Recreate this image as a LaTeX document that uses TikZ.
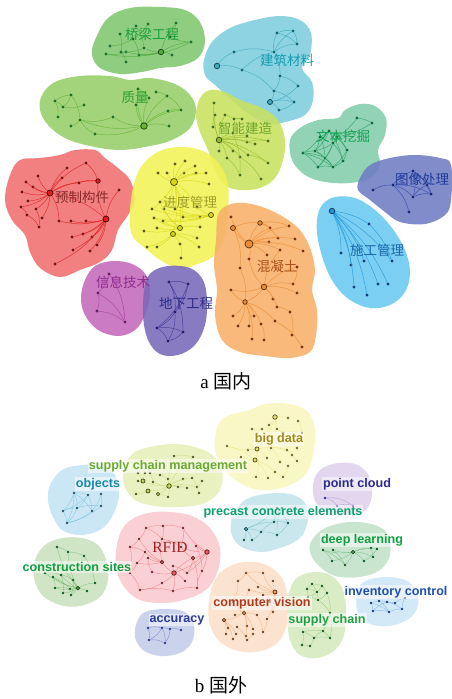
\documentclass[tikz,border=0pt]{standalone}
\usepackage{fontspec}
\setmainfont{Liberation Serif}
\newfontfamily\cjk{Noto Sans CJK SC}
\newfontfamily\lsans{Liberation Sans}
\definecolor{cQL}{RGB}{128,198,112}\definecolor{eQL}{RGB}{80,170,60}\definecolor{dQL}{RGB}{30,110,50}\definecolor{tQL}{RGB}{25,160,60}
\definecolor{cJZ}{RGB}{125,205,222}\definecolor{eJZ}{RGB}{60,170,190}\definecolor{dJZ}{RGB}{20,100,110}\definecolor{tJZ}{RGB}{20,155,175}
\definecolor{cZL}{RGB}{150,205,105}\definecolor{eZL}{RGB}{100,180,50}\definecolor{dZL}{RGB}{30,110,40}\definecolor{tZL}{RGB}{45,160,50}
\definecolor{cZN}{RGB}{200,225,95}\definecolor{eZN}{RGB}{150,190,40}\definecolor{dZN}{RGB}{70,110,30}\definecolor{tZN}{RGB}{110,168,40}
\definecolor{cWB}{RGB}{130,205,170}\definecolor{eWB}{RGB}{40,160,100}\definecolor{dWB}{RGB}{20,110,60}\definecolor{tWB}{RGB}{16,160,80}
\definecolor{cTX}{RGB}{110,125,195}\definecolor{eTX}{RGB}{50,70,170}\definecolor{dTX}{RGB}{30,40,120}\definecolor{tTX}{RGB}{32,58,154}
\definecolor{cSG}{RGB}{105,200,240}\definecolor{eSG}{RGB}{30,150,220}\definecolor{dSG}{RGB}{20,60,120}\definecolor{tSG}{RGB}{26,106,170}
\definecolor{cYZ}{RGB}{240,110,110}\definecolor{eYZ}{RGB}{220,30,30}\definecolor{dYZ}{RGB}{110,20,20}\definecolor{tYZ}{RGB}{138,42,42}
\definecolor{cJD}{RGB}{242,242,85}\definecolor{eJD}{RGB}{215,215,20}\definecolor{dJD}{RGB}{90,90,30}\definecolor{tJD}{RGB}{160,160,40}
\definecolor{cHN}{RGB}{248,175,105}\definecolor{eHN}{RGB}{235,140,50}\definecolor{dHN}{RGB}{120,50,20}\definecolor{tHN}{RGB}{168,80,26}
\definecolor{cXX}{RGB}{195,105,185}\definecolor{eXX}{RGB}{170,60,160}\definecolor{dXX}{RGB}{100,30,100}\definecolor{tXX}{RGB}{144,42,144}
\definecolor{cDX}{RGB}{120,105,185}\definecolor{eDX}{RGB}{60,50,150}\definecolor{dDX}{RGB}{40,30,110}\definecolor{tDX}{RGB}{42,42,138}
% panel b
\definecolor{cBD}{RGB}{250,247,195}\definecolor{eBD}{RGB}{230,220,110}\definecolor{tBD}{RGB}{160,138,32}
\definecolor{cSM}{RGB}{232,240,190}\definecolor{eSM}{RGB}{190,210,90}\definecolor{tSM}{RGB}{106,170,48}
\definecolor{cOB}{RGB}{200,230,245}\definecolor{eOB}{RGB}{90,180,210}\definecolor{tOB}{RGB}{26,138,168}
\definecolor{cPC}{RGB}{225,212,238}\definecolor{ePC}{RGB}{150,120,200}\definecolor{tPC}{RGB}{42,42,144}
\definecolor{cPE}{RGB}{198,230,235}\definecolor{ePE}{RGB}{80,180,190}\definecolor{tPE}{RGB}{16,160,112}
\definecolor{cDL}{RGB}{198,228,205}\definecolor{eDL}{RGB}{80,170,100}\definecolor{tDL}{RGB}{16,160,64}
\definecolor{cRF}{RGB}{250,205,210}\definecolor{eRF}{RGB}{235,90,90}\definecolor{tRF}{RGB}{160,32,32}
\definecolor{cCS}{RGB}{205,228,195}\definecolor{eCS}{RGB}{90,170,80}\definecolor{tCS}{RGB}{16,160,64}
\definecolor{cCV}{RGB}{252,225,205}\definecolor{eCV}{RGB}{240,150,80}\definecolor{tCV}{RGB}{176,58,26}
\definecolor{cSC}{RGB}{215,235,195}\definecolor{eSC}{RGB}{110,190,70}\definecolor{tSC}{RGB}{32,160,64}
\definecolor{cIC}{RGB}{210,232,248}\definecolor{eIC}{RGB}{70,150,220}\definecolor{tIC}{RGB}{32,80,176}
\definecolor{cAC}{RGB}{200,208,235}\definecolor{eAC}{RGB}{80,90,180}\definecolor{tAC}{RGB}{42,58,154}
\tikzset{
  blob/.style={fill=#1, fill opacity=0.88, draw=none},
  pale/.style={fill=#1, fill opacity=0.95, draw=none},
  dot/.style={circle, inner sep=0pt, minimum size=3.2pt, fill=#1},
  sdot/.style={circle, inner sep=0pt, minimum size=2.6pt, fill=#1},
  hub/.style 2 args={circle, inner sep=0pt, minimum size=#1, draw=black!65!#2, fill=#2, line width=0.7pt},
  link/.style={draw=#1, line width=0.5pt, draw opacity=0.8},
  plink/.style={draw=#1, line width=0.35pt, draw opacity=0.6},
  labA/.style={font=\cjk\fontsize{13.5}{14}\selectfont, text=#1, inner sep=0pt},
  labB/.style={font=\lsans\bfseries\fontsize{12.6}{13}\selectfont, text=#1, fill=white, fill opacity=0.5, text opacity=1, inner sep=1pt},
  capt/.style={font=\fontsize{19}{20}\selectfont, inner sep=0pt},
}
\begin{document}
\begin{tikzpicture}[x=1pt,y=-1pt]
\useasboundingbox (0,0) rectangle (451,699);
%================ panel a: blobs
\fill[blob=cQL] plot[smooth cycle, tension=0.6] coordinates {(95,40)(108,18)(130,8)(160,7)(185,10)(200,22)(205,42)(198,58)(180,66)(160,68)(142,72)(120,74)(100,68)(92,55)};
\fill[blob=cJZ] plot[smooth cycle, tension=0.6] coordinates {(204,60)(212,42)(230,28)(255,20)(280,16)(300,20)(311,33)(310,55)(302,68)(312,82)(313,100)(305,115)(285,122)(270,124)(250,115)(232,100)(215,85)(205,75)};
\fill[blob=cZL] plot[smooth cycle, tension=0.6] coordinates {(42,95)(55,82)(80,76)(110,76)(130,80)(150,78)(175,84)(190,95)(196,110)(190,128)(172,140)(150,146)(120,150)(90,146)(65,138)(48,125)(40,110)};
\fill[blob=cWB] plot[smooth cycle, tension=0.6] coordinates {(290,140)(300,128)(318,120)(338,118)(345,110)(360,104)(375,106)(386,118)(385,135)(378,150)(380,165)(370,178)(350,183)(325,182)(305,175)(292,160)};
\fill[blob=cTX] plot[smooth cycle, tension=0.6] coordinates {(360,178)(370,165)(390,158)(415,155)(440,158)(451,165)(451,200)(445,215)(425,224)(400,222)(385,212)(370,200)(358,190)};
\fill[blob=cSG] plot[smooth cycle, tension=0.6] coordinates {(322,205)(335,197)(355,198)(375,210)(392,228)(405,250)(410,272)(405,292)(390,305)(370,308)(350,300)(335,285)(325,265)(318,240)(317,220)};
\fill[blob=cYZ] plot[smooth cycle, tension=0.6] coordinates {(10,175)(20,160)(40,158)(60,155)(75,150)(95,150)(105,158)(118,168)(130,180)(135,200)(128,215)(118,230)(112,250)(100,262)(80,270)(60,277)(40,268)(30,252)(25,235)(12,220)(5,200)};
\fill[blob=cZN] plot[smooth cycle, tension=0.6] coordinates {(196,115)(200,98)(210,90)(225,92)(240,100)(262,108)(278,120)(285,140)(283,160)(275,178)(260,188)(240,190)(225,185)(215,170)(208,150)(200,132)};
\fill[blob=cJD] plot[smooth cycle, tension=0.6] coordinates {(135,180)(145,162)(162,150)(185,147)(205,152)(220,165)(228,185)(228,210)(225,235)(215,255)(195,265)(178,268)(160,260)(145,248)(132,235)(130,210)};
\fill[blob=cHN] plot[smooth cycle, tension=0.6] coordinates {(218,215)(228,205)(245,203)(265,208)(285,218)(300,230)(310,248)(315,270)(312,290)(317,310)(316,335)(310,352)(290,358)(265,356)(240,352)(222,340)(215,315)(217,290)(214,265)(216,240)};
\fill[blob=cXX] plot[smooth cycle, tension=0.6] coordinates {(85,280)(95,266)(113,261)(132,264)(146,275)(150,295)(145,315)(135,330)(118,336)(98,330)(85,315)(81,298)};
\fill[blob=cDX] plot[smooth cycle, tension=0.6] coordinates {(145,285)(152,272)(168,266)(190,268)(203,280)(207,300)(205,325)(195,345)(178,355)(160,354)(148,340)(143,315)};
%================ panel a: dots
\foreach \i/\x/\y in {1/136/26,2/148/24,3/176/23,4/120/34,5/133/39,6/144/48,7/161/52,8/191/42,9/110/46,10/121/52,11/126/52,12/139/55,13/172/55,14/106/54,15/126/62,16/170/37}
  \node[dot=dQL] (ql\i) at (\x,\y) {};
\foreach \i/\x/\y in {1/277/33,2/293/31,3/297/44,4/274/52,5/234/52,6/217/66,7/242/70,8/280/76,9/298/86,10/274/91,11/270/102,12/294/102,13/279/110}
  \node[dot=dJZ] (jz\i) at (\x,\y) {};
\foreach \i/\x/\y in {1/55/101,2/71/95,3/84/105,4/63/107,5/58/117,6/80/120,7/71/126,8/95/134,9/113/117,10/144/126,11/136/105,12/138/89,13/149/98,14/156/92,15/167/96,16/168/111,17/181/110,18/169/126}
  \node[dot=dZL] (zl\i) at (\x,\y) {};
\foreach \i/\x/\y in {1/214/103,2/215/115,3/225/115,4/234/119,5/242/119,6/213/127,7/219/140,8/233/133,9/247/136,10/247/142,11/255/144,12/268/141,13/219/151,14/233/151,15/248/155,16/227/158,17/240/157,18/240/175,19/268/163,20/261/179}
  \node[dot=dZN] (zn\i) at (\x,\y) {};
\foreach \i/\x/\y in {1/357/118,2/372/123,3/329/131,4/320/137,5/337/137,6/333/143,7/347/150,8/303/153,9/315/151,10/325/158,11/343/161,12/318/167,13/333/167}
  \node[dot=dWB] (wb\i) at (\x,\y) {};
\foreach \i/\x/\y in {1/373/190,2/393/185,3/413/171,4/413/197,5/431/194,6/409/212,7/427/185}
  \node[dot=dTX] (tx\i) at (\x,\y) {};
\foreach \i/\x/\y in {1/332/211,2/369/224,3/341/253,4/351/265,5/364/261,6/354/287,7/367/295,8/378/284,9/388/284,10/392/261}
  \node[dot=dSG] (sg\i) at (\x,\y) {};
\foreach \i/\x/\y in {1/86/163,2/67/168,3/38/176,4/62/178,5/79/183,6/98/181,7/26/182,8/33/187,9/50/193,10/22/192,11/119/190,12/28/201,13/21/207,14/36/209,15/27/215,16/42/218,17/59/221,18/71/221,19/86/221,20/106/219,21/39/227,22/72/237,23/83/234,24/92/237,25/97/245,26/73/250,27/90/251,28/55/264}
  \node[dot=dYZ] (yz\i) at (\x,\y) {};
\foreach \i/\x/\y in {1/175/164,2/185/161,3/195/166,4/158/173,5/167/173,6/184/173,7/196/173,8/206/173,9/174/182,10/209/184,11/160/202,12/152/209,13/164/209,14/175/209,15/197/207,16/211/215,17/154/218,18/163/221,19/183/217,20/200/217,21/144/231,22/157/228,23/180/228,24/173/234,25/200/227,26/197/238,27/147/247,28/157/247,29/180/244,30/199/247,31/181/258}
  \node[dot=dJD] (jd\i) at (\x,\y) {};
\foreach \i/\x/\y in {1/231/217,2/233/228,3/260/223,4/270/228,5/289/226,6/249/244,7/269/242,8/278/238,9/295/239,10/280/250,11/303/251,12/249/259,13/267/255,14/240/268,15/297/267,16/264/287,17/293/284,18/297/293,19/231/290,20/245/302,21/273/299,22/277/307,23/290/312,24/233/316,25/254/316,26/238/326,27/249/326,28/261/324,29/275/321,30/292/335,31/252/339,32/264/340,33/302/347}
  \node[dot=dHN] (hn\i) at (\x,\y) {};
\foreach \i/\x/\y in {1/109/274,2/98/293,3/97/311,4/125/322}
  \node[dot=dXX] (xx\i) at (\x,\y) {};
\foreach \i/\x/\y in {1/169/282,2/188/284,3/175/312,4/157/328,5/183/332,6/168/341}
  \node[dot=dDX] (dx\i) at (\x,\y) {};
%================ panel a: links
\foreach \a/\b in {7/8,7/12,7/14,7/6,7/3,7/13,7/11,8/12,8/16,5/9,5/12,1/6,2/5,4/10,10/15,11/14,6/10,3/16}
  \draw[link=eQL] (ql\a) to[bend left=12] (ql\b);
\foreach \a/\b in {6/5,6/7,5/4,7/4,7/10,4/1,4/2,1/2,1/3,2/3,4/3,4/8,8/9,8/10,10/11,11/12,11/13,12/13,9/11,10/12}
  \draw[link=eJZ] (jz\a) to[bend left=15] (jz\b);
\foreach \a/\b in {10/9,10/11,10/12,10/13,10/15,10/16,10/17,10/18,10/8,10/6,9/6,1/4,1/5,2/4,2/6,3/4,6/7,8/6,15/17,16/17,14/15,12/13,1/2}
  \draw[link=eZL] (zl\a) to[bend left=15] (zl\b);
\foreach \a/\b in {7/1,7/2,7/3,7/8,7/9,7/10,7/11,7/12,7/13,7/14,7/15,7/16,7/17,7/19,8/18,16/18,17/20,15/19,4/5,3/4,10/12,6/2}
  \draw[link=eZN] (zn\a) to[bend left=12] (zn\b);
\foreach \a/\b in {1/2,1/5,2/5,3/4,3/6,3/9,4/8,4/9,5/6,5/7,6/9,6/10,6/11,7/11,8/9,8/10,8/12,9/10,10/12,10/13,11/13,12/13,3/7,4/10,9/13,6/12,7/13,8/13,3/11}
  \draw[link=eWB] (wb\a) to[bend left=10] (wb\b);
\foreach \a/\b in {1/2,2/3,2/4,2/5,3/4,3/5,4/5,2/6,3/7,7/5,4/7}
  \draw[link=eTX] (tx\a) to[bend left=15] (tx\b);
\foreach \a/\b in {1/2,1/3,1/4,1/5,1/6,1/7,1/8,1/9,1/10,2/10}
  \draw[link=eSG] (sg\a) to[bend left=12] (sg\b);
\foreach \a/\b in {9/1,9/2,9/3,9/4,9/5,9/6,9/7,9/8,9/10,9/12,9/14,9/16,9/17,9/20,20/6,20/11,20/18,20/19,20/22,20/23,20/24,20/25,20/26,20/27,20/28,20/17,1/6,5/6,13/15,15/21,14/21,9/13}
  \draw[link=eYZ] (yz\a) to[bend left=15] (yz\b);
\foreach \a/\b in {9/1,9/2,9/3,9/4,9/5,9/6,9/7,9/8,9/10,9/11,9/13,9/14,9/15,9/19,9/23,9/24,16/15,16/19,16/20,16/13,16/12,16/17,16/18,16/14,23/11,23/13,23/17,23/18,23/21,23/22,23/25,24/26,24/29,24/27,24/28,24/30,29/31,11/12,11/14}
  \draw[link=eJD] (jd\a) to[bend left=12] (jd\b);
\foreach \a/\b in {6/1,6/2,6/3,6/4,6/7,6/8,6/9,6/10,6/11,6/12,6/13,6/5,2/3,3/4,3/5,3/8,2/14,16/15,16/17,16/18,16/19,16/20,16/21,16/10,16/12,16/22,20/24,20/25,20/26,20/27,20/28,20/29,20/31,20/19,22/23,23/30,29/33,28/32,15/17,14/20}
  \draw[link=eHN] (hn\a) to[bend left=15] (hn\b);
\foreach \a/\b in {1/2,2/3,2/4,3/4,1/4}
  \draw[link=eXX] (xx\a) to[bend left=15] (xx\b);
\foreach \a/\b in {1/2,1/3,2/3,1/5,2/4,3/4,3/6,4/5,4/6,5/6}
  \draw[link=eDX] (dx\a) to[bend left=15] (dx\b);
% hubs
\node[hub={5.5pt}{eQL}] (qlH) at (ql7) {};
\node[hub={5.5pt}{eJZ}] (jzH) at (jz6) {};
\node[hub={5pt}{eJZ}] (jzG) at (jz11) {};
\node[hub={6.5pt}{eZL}] (zlH) at (zl10) {};
\node[hub={5.5pt}{eZN}] (znH) at (zn7) {};
\node[hub={5.5pt}{eSG}] (sgH) at (sg1) {};
\node[hub={6pt}{eYZ}] (yzH) at (yz9) {};
\node[hub={6pt}{eYZ}] (yzG) at (yz20) {};
\node[hub={4.5pt}{eYZ}] (yzF) at (yz6) {};
\node[hub={7pt}{eJD}] (jdH) at (jd9) {};
\node[hub={5pt}{eJD}] (jdG) at (jd16) {};
\node[hub={5pt}{eJD}] (jdF) at (jd23) {};
\node[hub={5pt}{eJD}] (jdE) at (jd24) {};
\node[hub={8pt}{eHN}] (hnH) at (hn6) {};
\node[hub={5pt}{eHN}] (hnG) at (hn2) {};
\node[hub={4.5pt}{eHN}] (hnF) at (hn3) {};
\node[hub={5.5pt}{eHN}] (hnE) at (hn16) {};
\node[hub={4.5pt}{eHN}] (hnD) at (hn20) {};
% labels a
\node[labA=tQL] (lQL) at (152,34) {桥梁工程};
\node[labA=tJZ] (lJZ) at (287,60) {建筑材料};
\node[labA=tZL] (lZL) at (135,97) {质量};
\node[labA=tZN] (lZN) at (245,128) {智能建造};
\node[labA=tWB] (lWB) at (343,136) {文本挖掘};
\node[labA=tTX] (lTX) at (422,179) {图像处理};
\node[labA=tYZ] (lYZ) at (82,197) {预制构件};
\node[labA=tJD] (lJD) at (190,202) {进度管理};
\node[labA=tHN] (lHN) at (277,266) {混凝土};
\node[labA=tSG] (lSG) at (377,250) {施工管理};
\node[labA=tXX] (lXX) at (123,282) {信息技术};
\node[labA=tDX] (lDX) at (186,303) {地下工程};
\node[capt] (capA) at (226,381) {a {\cjk 国内}};
%================ panel b: blobs
\fill[pale=cBD] plot[smooth cycle, tension=0.6] coordinates {(218,425)(230,415)(250,410)(265,404)(290,404)(308,412)(315,430)(313,455)(305,475)(285,487)(260,490)(240,483)(225,470)(215,450)};
\fill[pale=cSM] plot[smooth cycle, tension=0.6] coordinates {(125,465)(135,452)(155,446)(175,444)(195,447)(212,455)(222,470)(220,490)(205,503)(180,507)(155,506)(135,500)(124,485)};
\fill[pale=cOB] plot[smooth cycle, tension=0.6] coordinates {(50,485)(62,470)(82,465)(100,466)(115,475)(119,495)(113,515)(100,530)(80,535)(62,530)(52,515)(48,500)};
\fill[pale=cPC] plot[smooth cycle, tension=0.6] coordinates {(313,485)(320,470)(338,463)(358,465)(370,478)(372,495)(366,510)(350,515)(330,514)(316,503)};
\fill[pale=cPE] plot[smooth cycle, tension=0.6] coordinates {(233,515)(245,500)(265,494)(290,494)(305,503)(308,520)(300,538)(280,548)(260,552)(240,546)(231,532)};
\fill[pale=cDL] plot[smooth cycle, tension=0.6] coordinates {(312,540)(325,528)(350,522)(375,525)(388,535)(390,555)(380,570)(360,577)(335,576)(318,565)(310,552)};
\fill[pale=cRF] plot[smooth cycle, tension=0.6] coordinates {(118,540)(128,522)(148,513)(170,512)(192,516)(210,528)(220,548)(218,570)(208,588)(190,598)(165,603)(140,600)(125,588)(116,568)};
\fill[pale=cCS] plot[smooth cycle, tension=0.6] coordinates {(35,560)(45,545)(62,538)(82,538)(98,545)(106,560)(108,580)(100,597)(80,606)(60,605)(42,595)(34,578)};
\fill[pale=cCV] plot[smooth cycle, tension=0.6] coordinates {(210,595)(218,575)(235,564)(255,562)(272,568)(284,582)(288,605)(286,628)(275,645)(255,652)(235,650)(218,640)(209,620)};
\fill[pale=cSC] plot[smooth cycle, tension=0.6] coordinates {(290,590)(298,577)(315,572)(332,576)(343,590)(346,610)(344,635)(335,650)(318,658)(300,655)(290,640)(287,615)};
\fill[pale=cIC] plot[smooth cycle, tension=0.6] coordinates {(357,592)(365,581)(385,577)(405,580)(416,590)(418,605)(410,618)(390,626)(370,624)(358,613)};
\fill[pale=cAC] plot[smooth cycle, tension=0.6] coordinates {(137,622)(145,612)(165,609)(185,612)(194,625)(192,642)(180,653)(160,656)(143,650)(135,637)};
%================ panel b: dots
\foreach \i/\x/\y in {1/275/417,2/288/418,3/298/421,4/269/425,5/262/429,6/252/429,7/277/429,8/283/433,9/302/433,10/227/446,11/248/450,12/257/449,13/271/448,14/287/450,15/297/448,16/241/457,17/255/460,18/267/458,19/280/462,20/292/455,21/297/461,22/275/472,23/288/466,24/256/477,25/268/478,26/283/477}
  \node[sdot=black!55!eBD] (bd\i) at (\x,\y) {};
\foreach \i/\x/\y in {1/174/456,2/193/457,3/138/473,4/145/473,5/150/473,6/160/475,7/138/481,8/143/481,9/153/482,10/168/479,11/183/479,12/192/478,13/202/481,14/169/486,15/178/487,16/187/488,17/197/487,18/148/491,19/158/494,20/168/497,21/136/494,22/199/493}
  \node[sdot=black!60!eSM] (sm\i) at (\x,\y) {};
\foreach \i/\x/\y in {1/74/493,2/88/495,3/101/494,4/63/511,5/77/508,6/92/511,7/101/506,8/67/523}
  \node[sdot=black!55!eOB] (ob\i) at (\x,\y) {};
\foreach \i/\x/\y in {1/325/498,2/337/506,3/353/506}
  \node[sdot=tPC] (pc\i) at (\x,\y) {};
\foreach \i/\x/\y in {1/246/529,2/261/532,3/274/522,4/288/523,5/244/540,6/252/540,7/277/535,8/282/508,9/277/508}
  \node[sdot=black!45!tPE] (pe\i) at (\x,\y) {};
\foreach \i/\x/\y in {1/323/550,2/333/550,3/332/561,4/345/565,5/353/552,6/371/548,7/377/549,8/373/557,9/364/561}
  \node[sdot=black!45!tDL] (dl\i) at (\x,\y) {};
\foreach \i/\x/\y in {1/146/528,2/163/526,3/183/528,4/139/539,5/162/539,6/130/547,7/181/547,8/196/546,9/207/552,10/145/552,11/193/558,12/162/562,13/173/566,14/137/563,15/152/572,16/174/573,17/187/573,18/202/571,19/130/573,20/162/583,21/185/581,22/140/590,23/173/591,24/197/588,25/148/558}
  \node[sdot=black!55!eRF] (rf\i) at (\x,\y) {};
\foreach \i/\x/\y in {1/57/547,2/68/552,3/84/556,4/45/573,5/53/577,6/61/575,7/73/580,8/55/588,9/63/593,10/71/595,11/78/588,12/87/591,13/95/583,14/70/589}
  \node[sdot=black!45!tCS] (cs\i) at (\x,\y) {};
\foreach \i/\x/\y in {1/246/573,2/263/573,3/238/581,4/273/581,5/258/587,6/249/590,7/275/592,8/263/595,9/233/602,10/270/602,11/244/613,12/235/615,13/257/615,14/273/612,15/267/619,16/224/620,17/228/628,18/237/627,19/247/626,20/253/629,21/263/632,22/226/634,23/236/634,24/246/636,25/253/634,26/233/639,27/247/640}
  \node[sdot=black!55!eCV] (cv\i) at (\x,\y) {};
\foreach \i/\x/\y in {1/312/584,2/322/586,3/307/589,4/317/592,5/327/593,6/308/597,7/318/600,8/330/613,9/303/632,10/314/638,11/323/631,12/330/638,13/302/645,14/310/646}
  \node[sdot=black!45!tSC] (sc\i) at (\x,\y) {};
\foreach \i/\x/\y in {1/371/603,2/379/601,3/387/602,4/395/603,5/405/598,6/373/611,7/389/612,8/402/609}
  \node[sdot=black!30!tIC] (ic\i) at (\x,\y) {};
\foreach \i/\x/\y in {1/148/628,2/162/628,3/170/629,4/181/630,5/149/640,6/165/643}
  \node[sdot=tAC] (ac\i) at (\x,\y) {};
%================ panel b: links
\foreach \a/\b in {1/4,1/2,1/7,1/13,1/12,12/10,12/11,12/17,12/18,12/24,17/16,17/25,17/22,13/19,13/14,7/8,8/9,5/6,14/20,20/21,23/26,22/26,10/17,12/14,4/12,3/9}
  \draw[plink=eBD] (bd\a) to[bend left=12] (bd\b);
\foreach \a/\b in {14/8,14/9,14/10,14/11,14/12,14/18,14/19,14/20,14/15,14/16,14/17,14/1,14/2,8/3,8/4,8/7,18/21,19/20,13/17,12/22,6/10,1/2,5/9}
  \draw[plink=eSM] (sm\a) to[bend left=12] (sm\b);
\foreach \a/\b in {1/2,1/4,1/5,1/6,2/5,2/6,3/6,3/7,4/5,4/8,5/8,6/8,7/8,5/7,2/4,1/8}
  \draw[plink=eOB] (ob\a) to[bend left=12] (ob\b);
\foreach \a/\b in {1/2,2/3,1/3}
  \draw[plink=ePC] (pc\a) to[bend left=20] (pc\b);
\foreach \a/\b in {1/2,1/3,1/5,1/6,2/3,2/7,3/4,3/8,4/7,4/8,2/6,3/9,9/1,7/8}
  \draw[plink=ePE] (pe\a) to[bend left=12] (pe\b);
\foreach \a/\b in {5/1,5/2,5/3,5/4,5/6,5/7,5/8,5/9,1/3,2/4,6/8,7/9,1/4}
  \draw[plink=eDL] (dl\a) to[bend left=12] (dl\b);
\foreach \a/\b in {9/8,9/7,9/11,9/3,9/16,9/18,9/17,16/12,16/13,16/15,16/20,16/21,16/23,16/11,12/5,12/10,12/4,12/14,12/25,11/7,11/17,11/24,1/2,2/3,1/4,4/6,6/10,10/14,14/19,19/22,22/23,23/24,24/18,5/7,2/5,3/7,13/17,15/25,20/22,6/19,1/5,8/18}
  \draw[plink=eRF] (rf\a) to[bend left=12] (rf\b);
\foreach \a/\b in {11/4,11/5,11/6,11/7,11/8,11/9,11/10,11/12,11/13,11/14,11/1,11/2,6/7,5/8,4/6,6/9,7/10,1/2,2/3,3/13,5/14,8/14}
  \draw[plink=eCS] (cs\a) to[bend left=12] (cs\b);
\foreach \a/\b in {7/2,7/4,7/5,7/8,7/10,7/14,7/15,7/6,7/1,11/9,11/12,11/13,11/16,11/19,11/20,11/24,11/6,16/17,16/22,16/23,16/26,3/9,1/3,13/21,15/21,18/27,25/27,10/14,1/2}
  \draw[plink=eCV] (cv\a) to[bend left=12] (cv\b);
\foreach \a/\b in {1/2,1/3,1/4,2/4,2/5,3/6,4/6,4/7,5/7,3/4,6/7,5/8,7/8,8/11,8/12,9/10,10/11,11/12,9/13,10/14,13/14,10/12,9/11}
  \draw[plink=eSC] (sc\a) to[bend left=12] (sc\b);
\foreach \a/\b in {1/2,2/3,3/4,4/5,1/6,6/7,7/8,8/5,2/7,3/8,6/3,1/7}
  \draw[plink=eIC] (ic\a) to[bend left=12] (ic\b);
\foreach \a/\b in {1/2,2/3,3/4,2/5,3/6,1/5,5/6,2/6}
  \draw[plink=eAC] (ac\a) to[bend left=15] (ac\b);
% hubs b
\node[hub={4.5pt}{eBD}] (bdH) at (bd1) {};
\node[hub={4pt}{eBD}] (bdG) at (bd12) {};
\node[hub={4pt}{eBD}] (bdF) at (bd17) {};
\node[hub={4.5pt}{eSM}] (smH) at (sm14) {};
\node[hub={4pt}{eSM}] (smG) at (sm8) {};
\node[hub={4pt}{eSM}] (smF) at (sm18) {};
\node[hub={3.5pt}{eSM}] (smE) at (sm19) {};
\node[hub={3.5pt}{ePE}] (peH) at (pe1) {};
\node[hub={3.5pt}{eDL}] (dlH) at (dl5) {};
\node[hub={4.5pt}{eRF}] (rfH) at (rf9) {};
\node[hub={4.5pt}{eRF}] (rfG) at (rf16) {};
\node[hub={3.5pt}{eRF}] (rfF) at (rf11) {};
\node[hub={3.5pt}{eRF}] (rfE) at (rf12) {};
\node[hub={3.5pt}{eCS}] (csH) at (cs11) {};
\node[hub={4pt}{eCV}] (cvH) at (cv7) {};
\node[hub={3.5pt}{eCV}] (cvG) at (cv11) {};
\node[hub={3.5pt}{eCV}] (cvF) at (cv16) {};
% labels b
\node[labB=tBD] (lBD) at (279,439) {big data};
\node[labB=tSM] (lSM) at (168,466) {supply chain management};
\node[labB=tOB] (lOB) at (98,484) {objects};
\node[labB=tPC] (lPC) at (357,484) {point cloud};
\node[labB=tPE] (lPE) at (283,512) {precast concrete elements};
\node[labB=tDL] (lDL) at (362,540) {deep learning};
\node[font=\fontsize{15.5}{16}\selectfont, text=tRF, inner sep=0pt] (lRF) at (170,547) {RFID};
\node[labB=tCS] (lCS) at (77,567) {construction sites};
\node[labB=tCV] (lCV) at (262,603) {computer vision};
\node[labB=tSC] (lSC) at (327,620) {supply chain};
\node[labB=tIC] (lIC) at (396,592) {inventory control};
\node[labB=tAC] (lAC) at (177,620) {accuracy};
\node[capt] (capB) at (221,685) {b {\cjk 国外}};
\end{tikzpicture}
\end{document}
